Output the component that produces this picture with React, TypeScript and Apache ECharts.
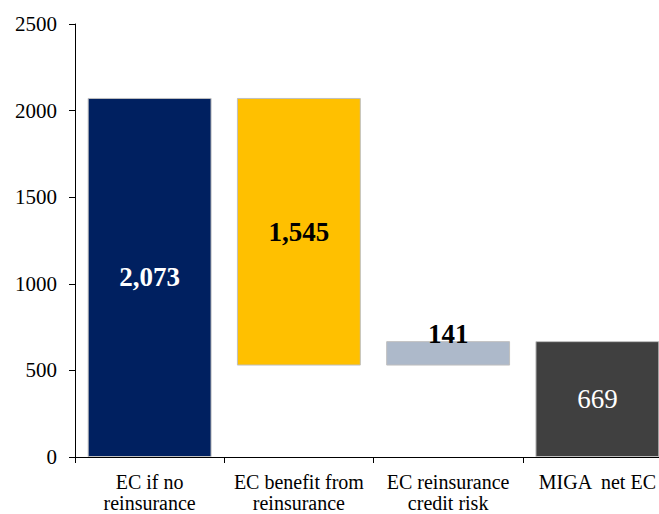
import React, { useEffect, useRef } from "react";
import * as echarts from "echarts";

// Waterfall steps of economic capital (EC)
const categories = [
  "EC if no\nreinsurance",
  "EC benefit from\nreinsurance",
  "EC reinsurance\ncredit risk",
  "MIGA  net EC",
];
const stepValues = [2073, 1545, 141, 669];
const stepKinds = ["total", "down", "up", "total"];
const barColors = ["#002060", "#FFC000", "#ADB9CA", "#404040"];
const yTicks = { min: 0, max: 2500, interval: 500 };

const FONT = "Liberation Serif";

function buildBases(): number[] {
  const bases: number[] = [];
  let running = 0;
  stepValues.forEach((v, i) => {
    const kind = stepKinds[i];
    if (kind === "total") {
      bases.push(0);
      running = v;
    } else if (kind === "down") {
      running -= v;
      bases.push(running);
    } else {
      bases.push(running);
      running += v;
    }
  });
  return bases;
}

const labelStyles = [
  { position: "inside", color: "#ffffff", fontWeight: "bold" },
  { position: "inside", color: "#000000", fontWeight: "bold" },
  { position: "top", color: "#000000", fontWeight: "bold", distance: -6 },
  { position: "inside", color: "#ffffff", fontWeight: "normal" },
];

export default function App() {
  const ref = useRef<HTMLDivElement>(null);

  useEffect(() => {
    document.body.style.margin = "0";
    if (!ref.current) return;
    const chart = echarts.init(ref.current, undefined, { renderer: "svg" });
    const bases = buildBases();

    chart.setOption({
      animation: false,
      backgroundColor: "#ffffff",
      textStyle: { fontFamily: FONT },
      grid: {
        left: 75,
        top: 24,
        width: 597,
        height: 433,
        containLabel: false,
        outerBoundsMode: "none",
      },
      xAxis: {
        type: "category",
        data: categories,
        axisLine: { show: true, lineStyle: { color: "#000000", width: 1 } },
        axisTick: { show: true, length: 6, alignWithLabel: false, lineStyle: { color: "#000000" } },
        axisLabel: {
          color: "#000000",
          fontFamily: FONT,
          fontSize: 20,
          lineHeight: 21,
          margin: 14,
          interval: 0,
        },
        splitLine: { show: false },
      },
      yAxis: {
        type: "value",
        min: yTicks.min,
        max: yTicks.max,
        interval: yTicks.interval,
        axisLine: { show: true, lineStyle: { color: "#000000", width: 1 } },
        axisTick: { show: true, length: 6, lineStyle: { color: "#000000" } },
        axisLabel: {
          color: "#000000",
          fontFamily: FONT,
          fontSize: 21,
          margin: 18,
          formatter: (v: number) => String(v),
        },
        splitLine: { show: false },
      },
      series: [
        {
          type: "bar",
          stack: "wf",
          silent: true,
          itemStyle: { color: "transparent", borderColor: "transparent" },
          data: bases,
          barCategoryGap: "17%",
        },
        {
          type: "bar",
          stack: "wf",
          barCategoryGap: "17%",
          data: stepValues.map((v, i) => ({
            value: v,
            itemStyle: { color: barColors[i], borderColor: "#bfbfbf", borderWidth: 1 },
            label: {
              show: true,
              fontFamily: FONT,
              fontSize: 27,
              formatter: () => v.toLocaleString("en-US"),
              ...labelStyles[i],
            },
          })),
        },
      ],
    });

    return () => chart.dispose();
  }, []);

  return <div ref={ref} style={{ width: 659, height: 514, overflow: "hidden" }} />;
}
